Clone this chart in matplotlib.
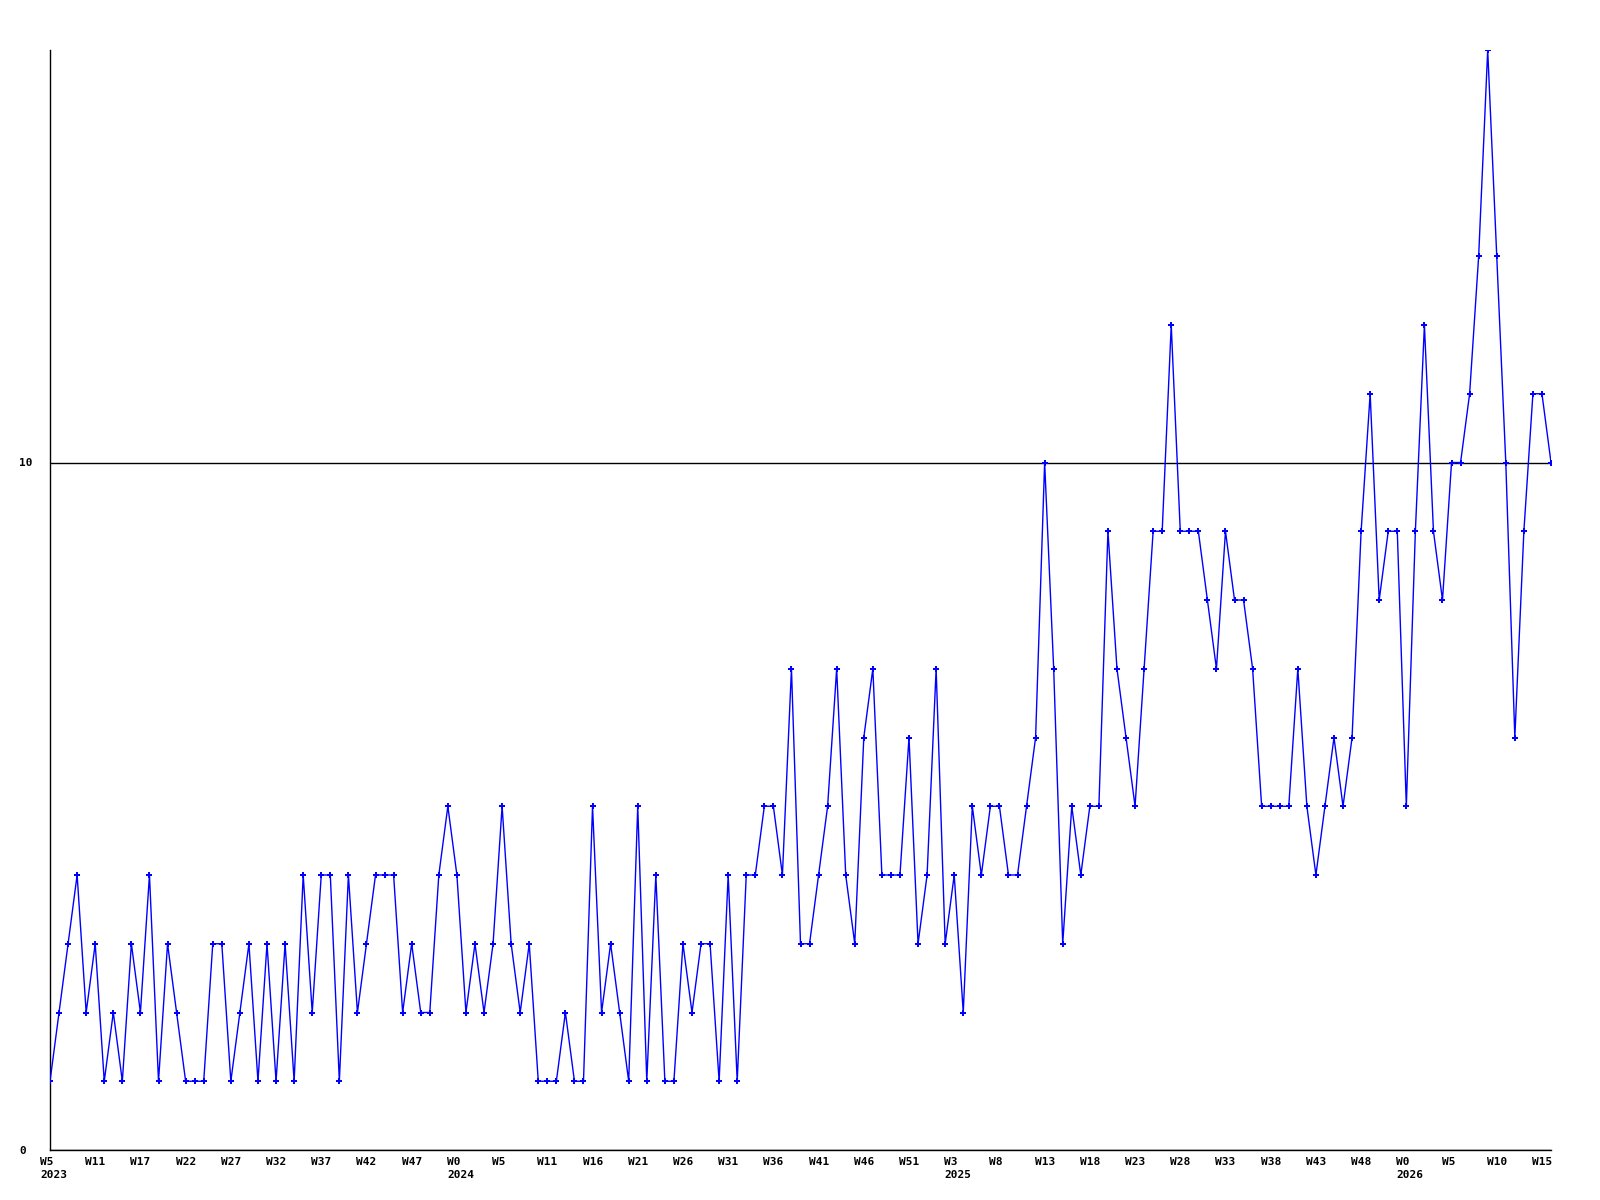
import numpy as np
import matplotlib.pyplot as plt
from matplotlib.transforms import ScaledTranslation

# weekly counts
values = [1, 2, 3, 4, 2, 3, 1, 2, 1, 3, 2, 4, 1, 3, 2, 1, 1, 1, 3, 3,
          1, 2, 3, 1, 3, 1, 3, 1, 4, 2, 4, 4,
          1, 4, 2, 3, 4, 4, 4, 2, 3, 2, 2, 4, 5, 4, 2, 3, 2, 3,
          5, 3, 2, 3, 1, 1, 1, 2, 1, 1, 5, 2, 3, 2, 1, 5,
          1, 4, 1, 1, 3, 2, 3, 3, 1, 4, 1, 4, 4, 5, 5, 4, 7, 3,
          3, 4, 5, 7, 4, 3, 6, 7, 4, 4, 4, 6, 3, 4, 7, 3,
          4, 2, 5, 4, 5, 5, 4, 4, 5, 6, 10, 7, 3, 5, 4, 5, 5, 9,
          7, 6, 5, 7, 9, 9, 12, 9, 9, 9, 8, 7, 9, 8, 8, 7,
          5, 5, 5, 5, 7, 5, 4, 5, 6, 5, 6, 9, 11, 8, 9, 9, 5,
          9, 12, 9, 8, 10, 10, 11, 13, 16, 13, 10, 6, 9, 11, 11, 10]

week_labels = ["W5", "W11", "W17", "W22", "W27", "W32", "W37", "W42", "W47",
               "W0", "W5", "W11", "W16", "W21", "W26", "W31", "W36", "W41",
               "W46", "W51", "W3", "W8", "W13", "W18", "W23", "W28", "W33",
               "W38", "W43", "W48", "W0", "W5", "W10", "W15"]
year_labels = ["2023", "", "", "", "", "", "", "", "",
               "2024", "", "", "", "", "", "", "", "",
               "", "", "2025", "", "", "", "", "", "",
               "", "", "", "2026", "", "", ""]
label_step = 5

y_ticks = [0, 10]

fig = plt.figure(figsize=(16, 12), dpi=100)
ax = fig.add_axes([50 / 1600, 50 / 1200, 1501 / 1600, 1100 / 1200])

x = np.arange(len(values))
ax.plot(x, values, color="#0000ff", lw=1, marker="P", ms=4.5,
        markeredgewidth=0, zorder=3)

ax.set_xlim(0, len(values) - 1)
ax.set_ylim(0, 16)

for s in ["top", "right"]:
    ax.spines[s].set_visible(False)
for s in ["left", "bottom"]:
    ax.spines[s].set_color("black")
    ax.spines[s].set_linewidth(1)

ax.set_yticks(y_ticks)
ax.set_yticklabels([str(t) for t in y_ticks], fontfamily="DejaVu Sans Mono",
                   fontweight="bold", fontsize=8, ha="left")
ax.yaxis.grid(True, color="black", lw=1)
ax.set_axisbelow(True)

ticks = x[::label_step]
labels = [w + ("\n" + y if y else "") for w, y in zip(week_labels, year_labels)]
ax.set_xticks(ticks)
ax.set_xticklabels(labels, fontfamily="DejaVu Sans Mono", fontweight="bold",
                   fontsize=8, linespacing=1.4)

ax.tick_params(axis="x", length=0, pad=5)
ax.tick_params(axis="y", length=0, pad=22)

offset = ScaledTranslation(-0.10, 0, fig.dpi_scale_trans)
for lab in ax.get_xticklabels():
    lab.set_horizontalalignment("left")
    lab.set_multialignment("left")
    lab.set_transform(lab.get_transform() + offset)

fig.savefig("out.png", dpi=100, facecolor="white")
